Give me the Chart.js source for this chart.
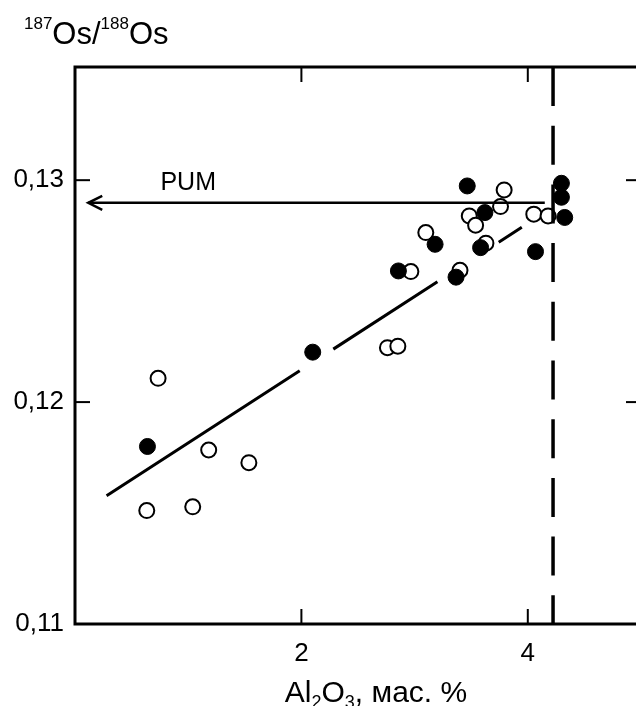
<!DOCTYPE html>
<html>
<head>
<meta charset="utf-8">
<script src="https://cdn.jsdelivr.net/npm/chart.js@4.4.0/dist/chart.umd.min.js"></script>
<style>
  html, body { margin: 0; padding: 0; background: #fff; overflow: hidden; }
</style>
</head>
<body>
<canvas id="chart" width="660" height="706"></canvas>
<script>
// Al2O3 (wt %) vs 187Os/188Os, open and filled symbols
const openAl = [0.734, 0.634, 1.040, 1.181, 1.536, 2.760, 2.852, 2.967, 3.099, 3.401, 3.483, 3.539, 3.630, 3.759, 3.791, 4.053, 4.179];
const openOs = [0.12107, 0.11511, 0.11528, 0.11784, 0.11727, 0.12245, 0.12252, 0.12588, 0.12764, 0.12594, 0.12839, 0.12797, 0.12716, 0.12881, 0.12956, 0.12847, 0.12839];
const filledAl = [0.640, 2.100, 2.857, 3.181, 3.366, 3.465, 3.621, 3.583, 4.068, 4.297, 4.297, 4.326];
const filledOs = [0.11800, 0.12225, 0.12591, 0.12711, 0.12563, 0.12974, 0.12854, 0.12696, 0.12678, 0.12986, 0.12923, 0.12832];

// trend line, Al2O3 limit and PUM arrow
const trendAl = [0.279, 3.947];
const trendOs = [0.11578, 0.12788];
const limitAl = 4.223;
const pumAl = [0.117, 4.15];
const pumOs = 0.12898;

// axes
const xMin = 0, xMax = 5;
const yMin = 0.11, yMax = 0.1351;
const xTicks = [2, 4];
const yTicks = [0.11, 0.12, 0.13];

const FONT = "'Liberation Sans', Arial, sans-serif";
Chart.defaults.font.family = FONT;
Chart.defaults.color = '#000';

const toXY = (xs, ys) => xs.map((v, i) => ({ x: v, y: ys[i] }));

function line(ctx, x1, y1, x2, y2) {
  ctx.beginPath();
  ctx.moveTo(x1, y1);
  ctx.lineTo(x2, y2);
  ctx.stroke();
}

// frame with inward ticks on all four sides + arrow head
const framePlugin = {
  id: 'frame',
  afterDatasetsDraw(chart) {
    const { ctx, chartArea: a, scales: { x, y } } = chart;
    ctx.save();
    ctx.strokeStyle = '#000';
    ctx.lineWidth = 2;
    xTicks.forEach(v => {
      const px = x.getPixelForValue(v);
      line(ctx, px, a.bottom, px, a.bottom - 15);
      line(ctx, px, a.top, px, a.top + 15);
    });
    yTicks.forEach(v => {
      const py = y.getPixelForValue(v);
      line(ctx, a.left, py, a.left + 15, py);
      line(ctx, a.right, py, a.right - 15, py);
    });
    ctx.lineWidth = 3;
    ctx.strokeRect(a.left, a.top, a.right - a.left, a.bottom - a.top);

    // arrow head at left end of the PUM line
    const tip = chart.getDatasetMeta(2).data[0];
    ctx.lineWidth = 2.5;
    ctx.beginPath();
    ctx.moveTo(tip.x + 14, tip.y - 7);
    ctx.lineTo(tip.x, tip.y);
    ctx.lineTo(tip.x + 14, tip.y + 7);
    ctx.stroke();
    ctx.restore();
  }
};

// texts with super/subscripts
function drawParts(ctx, parts, x, baseline) {
  parts.forEach(p => {
    ctx.font = p.size + 'px ' + FONT;
    ctx.fillText(p.t, x, baseline + (p.dy || 0));
    x += ctx.measureText(p.t).width;
  });
}
function partsWidth(ctx, parts) {
  let w = 0;
  parts.forEach(p => { ctx.font = p.size + 'px ' + FONT; w += ctx.measureText(p.t).width; });
  return w;
}

const textPlugin = {
  id: 'texts',
  afterDraw(chart) {
    const { ctx, scales: { x, y } } = chart;
    ctx.save();
    ctx.fillStyle = '#000';
    ctx.textBaseline = 'alphabetic';
    ctx.textAlign = 'left';

    const yTitle = [
      { t: '187', size: 17, dy: -15 },
      { t: 'Os/', size: 31 },
      { t: '188', size: 17, dy: -15 },
      { t: 'Os', size: 31 }
    ];
    drawParts(ctx, yTitle, 24, 44);

    const xTitle = [
      { t: 'Al', size: 30 },
      { t: '2', size: 18, dy: 6 },
      { t: 'O', size: 30 },
      { t: '3', size: 18, dy: 6 },
      { t: ', мас. %', size: 30 }
    ];
    const w = partsWidth(ctx, xTitle);
    drawParts(ctx, xTitle, 376 - w / 2, 702);

    ctx.font = '25px ' + FONT;
    ctx.textAlign = 'center';
    ctx.textBaseline = 'middle';
    ctx.fillText('PUM', x.getPixelForValue(1.0), y.getPixelForValue(0.12986));
    ctx.restore();
  }
};

new Chart(document.getElementById('chart'), {
  type: 'scatter',
  data: {
    datasets: [
      {
        type: 'line',
        data: toXY(trendAl, trendOs),
        borderColor: '#000',
        borderWidth: 3,
        borderDash: [230, 40, 124, 73, 60],
        pointRadius: 0,
        order: 5
      },
      {
        type: 'line',
        data: [{ x: limitAl, y: yMax }, { x: limitAl, y: yMin }],
        borderColor: '#000',
        borderWidth: 3.5,
        borderDash: [39, 19.7],
        pointRadius: 0,
        order: 0
      },
      {
        type: 'line',
        data: toXY(pumAl, [pumOs, pumOs]),
        borderColor: '#000',
        borderWidth: 2.5,
        pointRadius: 0,
        order: 0
      },
      {
        data: toXY(openAl, openOs),
        backgroundColor: '#fff',
        borderColor: '#000',
        borderWidth: 2,
        pointRadius: 7.5,
        order: 3
      },
      {
        data: toXY(filledAl, filledOs),
        backgroundColor: '#000',
        borderColor: '#000',
        borderWidth: 1,
        pointRadius: 8,
        order: 2
      }
    ]
  },
  options: {
    responsive: false,
    animation: false,
    devicePixelRatio: 1,
    layout: { padding: { left: 0, top: 67, right: 19, bottom: 0 } },
    plugins: { legend: { display: false }, tooltip: { enabled: false } },
    scales: {
      x: {
        type: 'linear',
        min: xMin,
        max: xMax,
        afterFit: s => { s.height = 82; },
        afterBuildTicks: s => { s.ticks = xTicks.map(v => ({ value: v })); },
        grid: { display: false, drawTicks: false },
        border: { display: false },
        ticks: { font: { size: 26 }, padding: 14, maxRotation: 0 }
      },
      y: {
        type: 'linear',
        min: yMin,
        max: yMax,
        afterFit: s => { s.width = 75; },
        afterBuildTicks: s => { s.ticks = yTicks.map(v => ({ value: v })); },
        grid: { display: false, drawTicks: false },
        border: { display: false },
        ticks: {
          font: { size: 26 },
          padding: 11,
          callback: v => v.toFixed(2).replace('.', ',')
        }
      }
    }
  },
  plugins: [framePlugin, textPlugin]
});
</script>
</body>
</html>
